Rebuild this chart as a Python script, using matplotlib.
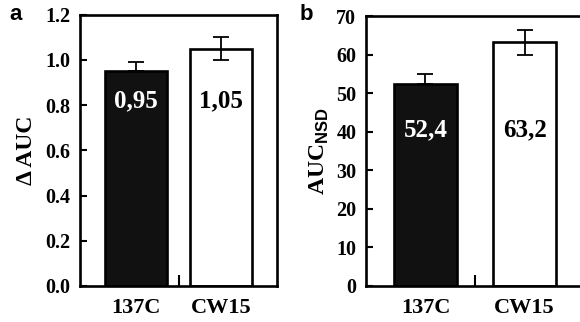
import matplotlib
matplotlib.use('Agg')
import matplotlib.pyplot as plt

plt.rcParams['font.family'] = 'Liberation Serif'
plt.rcParams['font.weight'] = 'bold'
plt.rcParams['mathtext.fontset'] = 'custom'
plt.rcParams['mathtext.bf'] = 'Liberation Sans:bold'

# data
strains = ['137C', 'CW15']
delta_auc = [0.95, 1.05]
delta_auc_err = [0.04, 0.05]
delta_auc_labels = ['0,95', '1,05']
auc_nsd = [52.4, 63.2]
auc_nsd_err = [2.6, 3.2]
auc_nsd_labels = ['52,4', '63,2']
bar_colors = ['#111111', 'white']
text_colors = ['white', 'black']

fig = plt.figure(figsize=(5.8, 3.22), dpi=100)
ax_a = fig.add_axes([0.138, 0.112, 0.340, 0.842])
ax_b = fig.add_axes([0.631, 0.112, 0.376, 0.838])


def draw_panel(ax, values, errs, labels, width, half, ymax, ystep, fmt, label_y):
    x = list(range(len(values)))
    ax.bar(x, values, width=width, color=bar_colors, edgecolor='black',
           linewidth=1.9, zorder=2)
    # black bar hides its lower whisker, so only the upper half is drawn there
    lower = [0] + list(errs[1:])
    ax.errorbar(x, values, yerr=[lower, errs], fmt='none', ecolor='black',
                elinewidth=1.3, capsize=6, capthick=1.3, zorder=3)
    for xi, lab, c in zip(x, labels, text_colors):
        ax.text(xi, label_y, lab, ha='center', va='center', color=c,
                fontsize=18, fontweight='bold', zorder=4)
    ax.set_xlim(-half, len(values) - 1 + half)
    ax.set_ylim(0, ymax)
    ticks = [i * ystep for i in range(int(round(ymax / ystep)) + 1)]
    ax.set_yticks(ticks)
    ax.set_yticklabels([fmt.format(t) for t in ticks])
    ax.set_xticks(x)
    ax.set_xticklabels(strains)
    ax.set_xticks([0.5], minor=True)
    ax.tick_params(axis='x', which='major', length=0, pad=9, labelsize=16)
    ax.tick_params(axis='x', which='minor', direction='in', length=8, width=1.5)
    ax.tick_params(axis='y', direction='in', length=5, width=1.5, pad=7,
                   labelsize=14.5)
    for s in ax.spines.values():
        s.set_linewidth(1.9)


draw_panel(ax_a, delta_auc, delta_auc_err, delta_auc_labels, 0.73, 0.66,
           1.2, 0.2, '{:.1f}', 0.82)
draw_panel(ax_b, auc_nsd, auc_nsd_err, auc_nsd_labels, 0.64, 0.60,
           70, 10, '{:.0f}', 40.5)

ax_a.set_ylabel('Δ AUC', fontsize=17, fontweight='bold', labelpad=6)
ax_b.set_ylabel(r'AUC$_\mathbf{NSD}$', fontsize=17, fontweight='bold', labelpad=4)

fig.text(0.017, 0.955, 'a', family='Liberation Sans', fontweight='bold',
         fontsize=16, va='center')
fig.text(0.517, 0.955, 'b', family='Liberation Sans', fontweight='bold',
         fontsize=16, va='center')

fig.savefig('out.png', dpi=100)
